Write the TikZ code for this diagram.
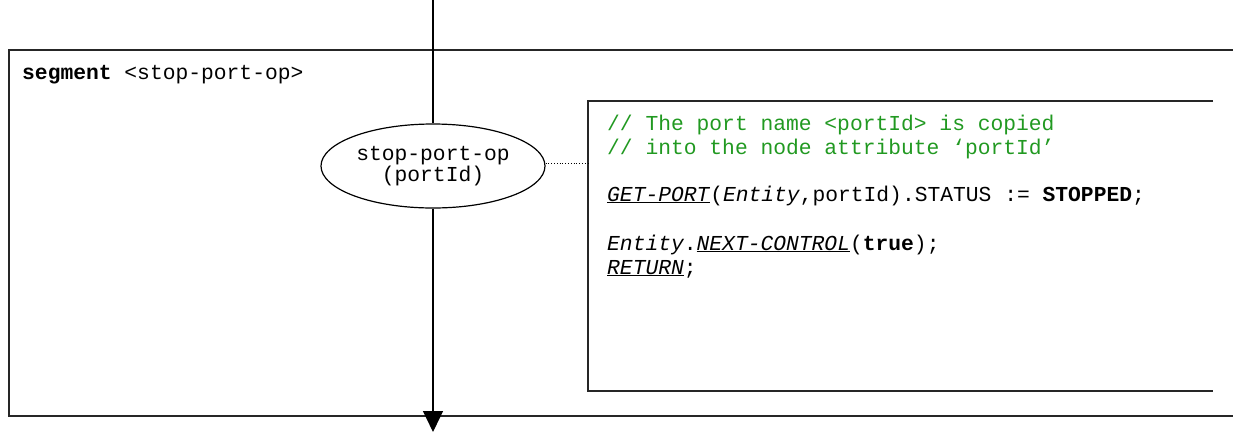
\documentclass[tikz,border=0pt]{standalone}
\usepackage{fontspec}
\setmonofont{Liberation Mono}
\usetikzlibrary{shapes.geometric,arrows.meta}
\definecolor{cmtgreen}{rgb}{0.13,0.6,0.13}
\tikzset{
  frame/.style={draw=black!85, line width=1.4pt},
  flow/.style={draw, line width=1.2pt},
  txt/.style={font=\ttfamily\fontsize{21.3}{24}\selectfont, inner sep=0pt, text=black, anchor=base west},
  proc/.style={ellipse, draw, line width=1.2pt, minimum width=224pt, minimum height=84pt,
    inner sep=0pt, align=center, font=\ttfamily\fontsize{21.3}{21}\selectfont},
  linkdot/.style={draw, dotted, line width=0.8pt}
}
\newcommand{\ul}[1]{\underline{#1}}
\begin{document}
\begin{tikzpicture}[x=1pt,y=-1pt]
\useasboundingbox (0,0) rectangle (1233,432);
% outer frame (open on right)
\draw[frame] (1233,50) -- (9,50) -- (9,416) -- (1233,416);
% comment box (open on right)
\draw[frame] (1213,101) -- (588,101) -- (588,391) -- (1213,391);
\node[txt] (seg) at (22,79) {\textbf{segment} <stop-port-op>};
\coordinate (top) at (433,0);
\coordinate (bot) at (433,432);
\node[proc] (op) at (433,166) {stop-port-op\\(portId)};
\coordinate (cbox) at (588,163);
\draw[flow] (top) -- (op.north);
\draw[flow, -{Triangle[length=21pt,width=20pt]}] (op.south) -- (bot);
\draw[linkdot] (op.east |- cbox) -- (cbox);
\node[txt, text=cmtgreen] (c1) at (607,130) {// The port name <portId> is copied};
\node[txt, text=cmtgreen] (c2) at (607,154) {// into the node attribute ‘portId’};
\node[txt] (l1) at (607,201) {\ul{\textit{GET-PORT}}(\textit{Entity},portId).STATUS := \textbf{STOPPED};};
\node[txt] (l2) at (607,250) {\textit{Entity}.\ul{\textit{NEXT-CONTROL}}(\textbf{true});};
\node[txt] (l3) at (607,274) {\ul{\textit{RETURN}};};
\end{tikzpicture}
\end{document}
